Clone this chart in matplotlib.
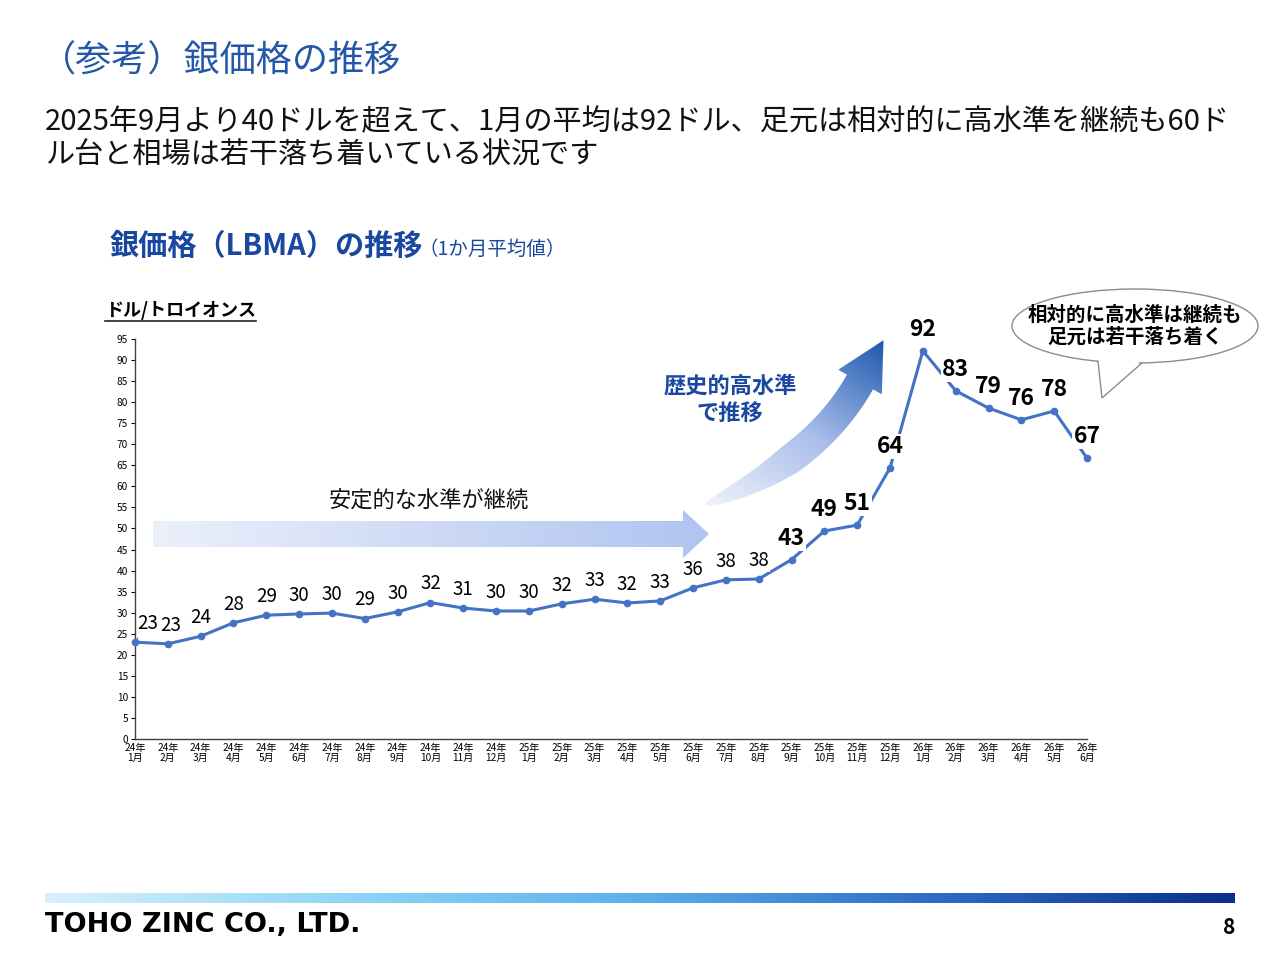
import numpy as np
import matplotlib
matplotlib.use("Agg")
import matplotlib.pyplot as plt
from matplotlib.colors import LinearSegmentedColormap
from matplotlib.patches import Polygon, Ellipse
from matplotlib.lines import Line2D

plt.rcParams['font.family'] = ['Noto Sans CJK JP', 'DejaVu Sans']

# data: LBMA silver, monthly average (USD / troy oz)
months = ["24年\n1月", "24年\n2月", "24年\n3月", "24年\n4月", "24年\n5月", "24年\n6月",
          "24年\n7月", "24年\n8月", "24年\n9月", "24年\n10月", "24年\n11月", "24年\n12月",
          "25年\n1月", "25年\n2月", "25年\n3月", "25年\n4月", "25年\n5月", "25年\n6月",
          "25年\n7月", "25年\n8月", "25年\n9月", "25年\n10月", "25年\n11月", "25年\n12月",
          "26年\n1月", "26年\n2月", "26年\n3月", "26年\n4月", "26年\n5月", "26年\n6月"]
prices = [23.0, 22.6, 24.4, 27.6, 29.4, 29.7, 29.9, 28.6, 30.2, 32.4,
          31.1, 30.4, 30.4, 32.1, 33.2, 32.3, 32.8, 35.9, 37.8, 38.0,
          42.6, 49.4, 50.8, 64.4, 92.2, 82.7, 78.6, 75.8, 77.9, 66.7]
yticks = list(range(0, 100, 5))
bold_start = 20  # labels from 25年9月 on are bold

BLUE = "#4472C4"
TITLE_BLUE = "#2457A8"
DARK_BLUE = "#1A47A0"

fig = plt.figure(figsize=(12.8, 9.6), dpi=100)
W, H = 1280, 960

# ---- chart axes ----
ax = fig.add_axes([135 / W, (H - 739) / H, 952 / W, 400 / H])
x = np.arange(len(prices))
ax.plot(x, prices, color=BLUE, lw=2.2, marker="o", ms=4.5, zorder=3, clip_on=False)
ax.set_xlim(0, len(prices) - 1)
ax.set_ylim(0, 95)
ax.set_yticks(yticks)
ax.set_xticks(x)
ax.set_xticklabels(months, fontsize=7.3, linespacing=1.0)
ax.tick_params(axis="y", labelsize=7.3, length=3, width=0.8, direction="out", pad=2)
ax.tick_params(axis="x", length=0, pad=3)
for s in ["top", "right"]:
    ax.spines[s].set_visible(False)
for s in ["left", "bottom"]:
    ax.spines[s].set_color("#404040")
    ax.spines[s].set_linewidth(1.0)

for i, v in enumerate(prices):
    bold = i >= bold_start
    kw = dict(textcoords="offset points", ha="center", va="center",
              fontsize=16.5 if bold else 13.5, fontweight="bold" if bold else "normal",
              bbox=dict(boxstyle="square,pad=0.05", fc="white", ec="none"),
              zorder=5, annotation_clip=False)
    dy = 15.5 if bold else 13.5
    if i == 0:
        kw.pop("bbox")
        ax.annotate(f"{v:.0f}", (i, v), xytext=(9, 13.5),
                    arrowprops=dict(arrowstyle="-", lw=0.6, color="#404040",
                                    shrinkA=1, shrinkB=3), **kw)
    elif i == 1:
        ax.annotate(f"{v:.0f}", (i, v), xytext=(2, dy), **kw)
    else:
        ax.annotate(f"{v:.0f}", (i, v), xytext=(0, dy), **kw)

# ---- overlay in pixel coordinates for slide decorations ----
ov = fig.add_axes([0, 0, 1, 1])
ov.set_xlim(0, W)
ov.set_ylim(H, 0)
ov.axis("off")
ov.patch.set_alpha(0)


def gradient_fill(poly_pts, cmap, direction):
    pts = np.array(poly_pts)
    x0, y0 = pts.min(axis=0)
    x1, y1 = pts.max(axis=0)
    gx, gy = np.meshgrid(np.linspace(x0, x1, 200), np.linspace(y0, y1, 200))
    d = np.array(direction, float)
    d /= np.linalg.norm(d)
    proj = gx * d[0] + gy * d[1]
    proj = (proj - proj.min()) / (proj.max() - proj.min())
    im = ov.imshow(proj, cmap=cmap, extent=[x0, x1, y1, y0], origin="upper",
                   aspect="auto", zorder=2, interpolation="bilinear")
    patch = Polygon(pts, closed=True, fc="none", ec="none")
    ov.add_patch(patch)
    im.set_clip_path(patch)


# horizontal arrow (stable level)
h_cmap = LinearSegmentedColormap.from_list("h", ["#ECF0FB", "#AFC4F0"])
harrow = [(153, 521), (683, 521), (683, 510), (709, 534), (683, 558), (683, 547), (153, 547)]
gradient_fill(harrow, h_cmap, (1, 0))
ov.text(429, 501, "安定的な水準が継続", fontsize=16, ha="center", va="center", color="#111111")

# curved arrow (historic high)
c_cmap = LinearSegmentedColormap.from_list("c", ["#F0F3FC", "#A9BEEA", "#1E58B0"])
P0, P1, P2 = np.array([705, 505.]), np.array([815, 462.]), np.array([860, 382.])
t = np.linspace(0, 1, 60)
curve = ((1 - t) ** 2)[:, None] * P0 + (2 * (1 - t) * t)[:, None] * P1 + (t ** 2)[:, None] * P2
tang = (2 * (1 - t))[:, None] * (P1 - P0) + (2 * t)[:, None] * (P2 - P1)
tang /= np.linalg.norm(tang, axis=1)[:, None]
norm = np.column_stack([-tang[:, 1], tang[:, 0]])
hw = 15 * np.clip(t / 0.45, 0, 1) ** 0.55
left = curve + norm * hw[:, None]
right = curve - norm * hw[:, None]
tend, nend = tang[-1], norm[-1]
head = [P2 + nend * 25, P2 + tend * 48, P2 - nend * 25]
carrow = list(left) + [head[0], head[1], head[2]] + list(right[::-1])
gradient_fill(carrow, c_cmap, (0.55, -0.83))
ov.text(730, 400, "歴史的高水準\nで推移", fontsize=16, fontweight="bold", ha="center",
        va="center", color=DARK_BLUE, linespacing=1.3)

# speech bubble
cx, cy, a, b = 1135, 326, 123, 37
ov.add_patch(Ellipse((cx, cy), 2 * a, 2 * b, fc="white", ec="#8C8C8C", lw=1.0, zorder=3))
xa, xb, tip = 1098, 1142, (1102, 398)
ya = cy + b * np.sqrt(1 - ((xa - cx) / a) ** 2)
yb = cy + b * np.sqrt(1 - ((xb - cx) / a) ** 2)
ov.add_patch(Polygon([(xa, ya - 3), tip, (xb, yb - 3)], closed=True, fc="white", ec="none", zorder=4))
ov.add_line(Line2D([xa, tip[0], xb], [ya, tip[1], yb], color="#8C8C8C", lw=1.0, zorder=5))
ov.text(cx, cy, "相対的に高水準は継続も\n足元は若干落ち着く", fontsize=14, fontweight="bold",
        ha="center", va="center", zorder=6, linespacing=1.2)

# titles
ov.text(40, 62, "（参考）銀価格の推移", fontsize=26, color=TITLE_BLUE, ha="left", va="center")
ov.text(45, 139, "2025年9月より40ドルを超えて、1月の平均は92ドル、足元は相対的に高水準を継続も60ド\n"
        "ル台と相場は若干落ち着いている状況です", fontsize=21, ha="left", va="center",
        color="#111111", linespacing=1.15)
ov.text(110, 246, "銀価格（LBMA）の推移", fontsize=21, fontweight="bold",
        color=DARK_BLUE, ha="left", va="center")
ov.text(418, 249, "（1か月平均値）", fontsize=14, color=DARK_BLUE, ha="left", va="center")

# y unit label (underlined)
ov.text(105, 310, "ドル/トロイオンス", fontsize=13, fontweight="bold", ha="left", va="center")
ov.add_line(Line2D([105, 256], [321, 321], color="#222222", lw=1.2))

# footer bar
f_cmap = LinearSegmentedColormap.from_list("f", ["#D8F1FC", "#8FD6F7", "#5BB0EC", "#2F6CC4", "#0A2F8A"])
bar = [(45, 893), (1235, 893), (1235, 903), (45, 903)]
gradient_fill(bar, f_cmap, (1, 0))
ov.text(45, 925, "TOHO ZINC CO., LTD.", fontsize=19.5, fontweight="heavy",
        family=["DejaVu Sans"], ha="left", va="center")
ov.text(1235, 927, "8", fontsize=15, fontweight="bold", ha="right", va="center")

fig.savefig("out.png", dpi=100, facecolor="white")
